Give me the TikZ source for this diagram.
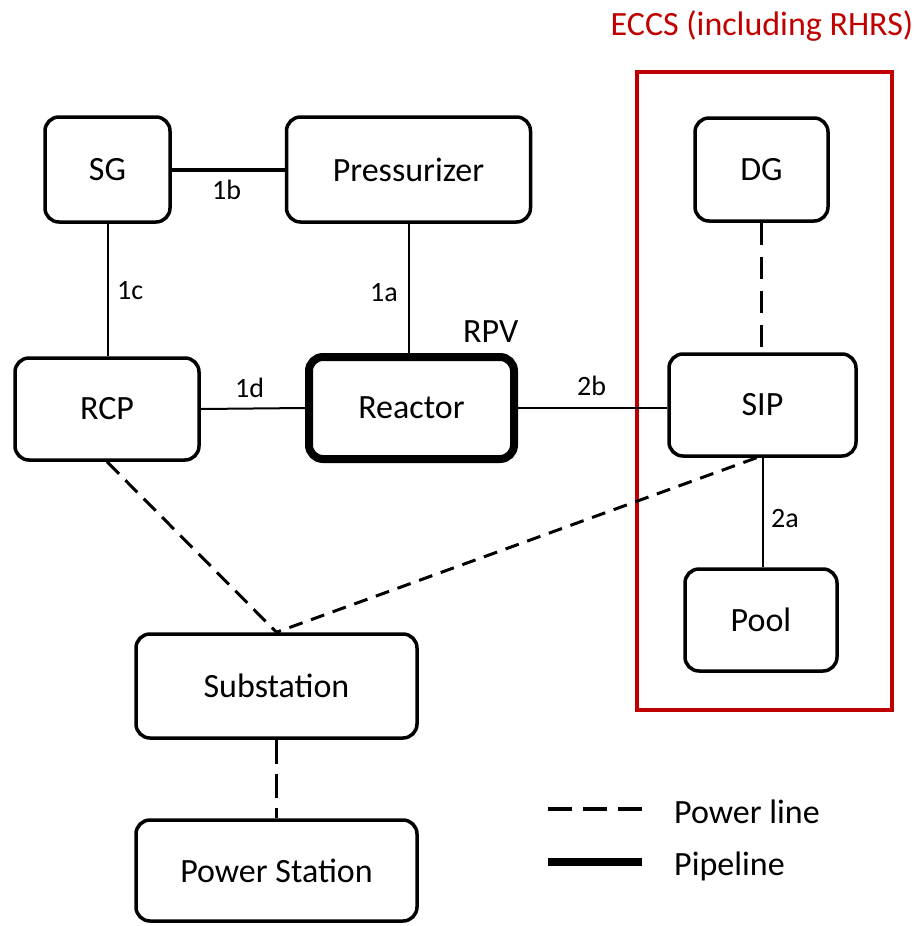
\documentclass[tikz,border=0pt]{standalone}
\usepackage{fontspec}
\setmainfont{Carlito}
\definecolor{eccsred}{RGB}{192,0,0}
\newcommand\bigtxt{\fontsize{34}{40}\selectfont}
\newcommand\smalltxt{\fontsize{28}{34}\selectfont}
\begin{document}
\begin{tikzpicture}[x=1pt, y=-1pt,
  box/.style={draw, line width=3.5pt, rounded corners=14pt, inner sep=0pt, font=\bigtxt},
  vessel/.style={box, line width=8pt},
  pipe/.style={line width=2pt},
  mainpipe/.style={line width=4pt},
  power/.style={line width=3pt, dash pattern=on 16pt off 9pt},
  tag/.style={font=\smalltxt, inner sep=0pt, anchor=base west},
  legendtxt/.style={font=\bigtxt, inner sep=0pt, anchor=base west}]
\useasboundingbox (0,0) rectangle (919,926);

% emergency core cooling system frame
\node[draw=eccsred, line width=4pt, minimum width=255pt, minimum height=638pt, inner sep=0pt] (ECCS) at (764.5,391) {};
\node[font=\bigtxt, text=eccsred, inner sep=0pt, anchor=base] (ECCSlabel) at (762,35) {ECCS (including RHRS)};

% components
\node[box, minimum width=125pt, minimum height=105pt] (SG) at (107.5,169.5) {SG};
\node[box, minimum width=244pt, minimum height=105pt] (PRZ) at (408.5,169.5) {Pressurizer};
\node[box, minimum width=184pt, minimum height=102pt] (RCP) at (107,409) {RCP};
\node[vessel, minimum width=205pt, minimum height=102pt] (RX) at (411.5,408) {Reactor};
\node[box, minimum width=187pt, minimum height=102pt] (SIP) at (762.5,405) {SIP};
\node[box, minimum width=133pt, minimum height=103pt] (DG) at (761.5,169.5) {DG};
\node[box, minimum width=152pt, minimum height=102pt] (POOL) at (761,620) {Pool};
\node[box, minimum width=281pt, minimum height=104pt] (SUB) at (276.5,686) {Substation};
\node[box, minimum width=281pt, minimum height=101pt] (PS) at (276.5,870.5) {Power Station};

% pipelines
\draw[mainpipe] (SG.east) -- (PRZ.west);
\draw[pipe] (SG.south) -- (SG.south |- RCP.north);
\draw[pipe] (PRZ.south) -- (PRZ.south |- RX.north);
\draw[pipe] (RCP.east) -- (RX.west);
\draw[pipe] (RX.east) -- (RX.east -| SIP.west);
\draw[pipe] (SIP.south) -- (SIP.south |- POOL.north);

% power lines
\draw[power, line width=2.5pt, dash pattern=on 22pt off 12pt] (DG.south) -- (DG.south |- SIP.north);
\draw[power, dash pattern=on 17pt off 9pt] (RCP.south) -- (SUB.north);
\draw[power, dash pattern=on 14pt off 9pt] ([xshift=-6pt]SIP.south) -- (SUB.north);
\draw[power, dash pattern=on 24pt off 10pt] (SUB.south) -- (PS.north);

% pipe labels
\node[tag] (l1b) at (212,199) {1b};
\node[tag] (l1c) at (117,299) {1c};
\node[tag] (l1a) at (370,301) {1a};
\node[tag] (l1d) at (235,397) {1d};
\node[tag] (l2b) at (577,395) {2b};
\node[tag] (l2a) at (771,527) {2a};
\node[legendtxt] (rpv) at (463,342) {RPV};

% legend
\coordinate (pw1) at (548,809);
\coordinate (pw2) at (642,809);
\coordinate (pp1) at (548,862);
\coordinate (pp2) at (642,862);
\draw[line width=4pt, dash pattern=on 24pt off 11pt] (pw1) -- (pw2);
\draw[line width=8pt] (pp1) -- (pp2);
\node[legendtxt] (pwtxt) at (674,823) {Power line};
\node[legendtxt] (pptxt) at (674,875) {Pipeline};
\end{tikzpicture}
\end{document}
